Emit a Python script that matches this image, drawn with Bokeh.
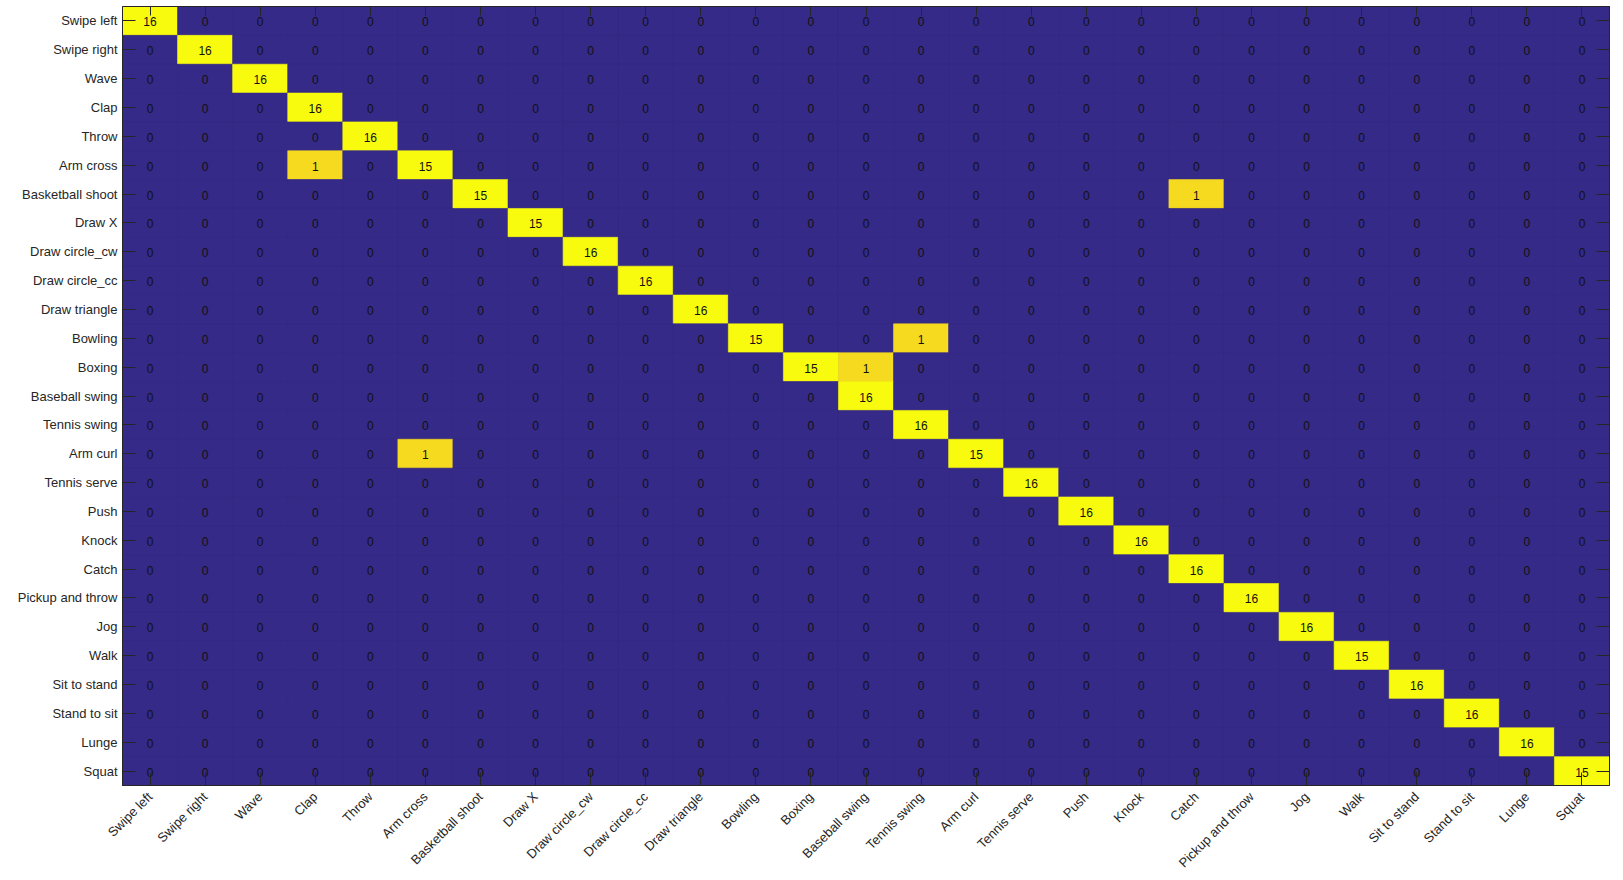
import math
from bokeh.plotting import figure
from bokeh.models import ColumnDataSource, LinearColorMapper, CategoricalAxis, FactorRange
from bokeh.transform import transform
from bokeh.core.properties import value
from bokeh.embed import file_html
from bokeh.resources import INLINE

classes = ["Swipe left", "Swipe right", "Wave", "Clap", "Throw", "Arm cross",
           "Basketball shoot", "Draw X", "Draw circle_cw", "Draw circle_cc",
           "Draw triangle", "Bowling", "Boxing", "Baseball swing", "Tennis swing",
           "Arm curl", "Tennis serve", "Push", "Knock", "Catch", "Pickup and throw",
           "Jog", "Walk", "Sit to stand", "Stand to sit", "Lunge", "Squat"]

diag_counts = [16, 16, 16, 16, 16, 15, 15, 15, 16, 16, 16, 15, 15, 16, 16, 15,
               16, 16, 16, 16, 16, 16, 15, 16, 16, 16, 15]

off_true = ["Arm cross", "Basketball shoot", "Bowling", "Boxing", "Arm curl"]
off_pred = ["Clap", "Catch", "Tennis swing", "Baseball swing", "Arm cross"]
off_counts = [1, 1, 1, 1, 1]

# colour per count: 0 -> dark blue, 1 -> gold, >=2 -> yellow
count_palette = ["#352A87", "#F5DA1F"] + ["#F9FB0E"] * 15

n = len(classes)
mat = [[0] * n for _ in range(n)]
for i, c in enumerate(diag_counts):
    mat[i][i] = c
for t, pr, c in zip(off_true, off_pred, off_counts):
    mat[classes.index(t)][classes.index(pr)] = c

xs, ys, vals, txt = [], [], [], []
for i in range(n):
    for j in range(n):
        xs.append(classes[j])
        ys.append(classes[i])
        vals.append(mat[i][j])
        txt.append(str(mat[i][j]))
src = ColumnDataSource(dict(x=xs, y=ys, v=vals, t=txt))

mapper = LinearColorMapper(palette=count_palette, low=-0.5, high=16.5)

p = figure(width=1615, height=878,
           x_range=FactorRange(factors=classes),
           y_range=FactorRange(factors=classes[::-1]),
           output_backend="svg", toolbar_location=None,
           min_border_left=122, min_border_top=6, min_border_right=6,
           min_border_bottom=88)

p.rect(x="x", y="y", width=1, height=1, source=src,
       fill_color=transform("v", mapper), line_color=transform("v", mapper),
       line_width=0.6)
p.text(x="x", y="y", text="t", source=src, text_align="center",
       text_baseline="middle", text_font=value("Liberation Sans"),
       text_font_size="12px", text_color="#111111", y_offset=1)

p.grid.visible = False
p.outline_line_color = "#262626"
p.outline_line_width = 1
p.background_fill_color = "#352A87"

TC = "#262626"
for ax in (p.xaxis[0], p.yaxis[0]):
    ax.major_tick_out = 0
    ax.major_tick_in = 13
    ax.major_tick_line_color = TC
    ax.axis_line_color = TC
    ax.major_label_text_font = "Liberation Sans"
    ax.major_label_text_font_size = "13px"
    ax.major_label_text_color = TC
    ax.major_label_standoff = 5
p.xaxis[0].major_label_orientation = math.pi / 4
p.xaxis[0].major_label_standoff = 9

for side, tick in (("above", 9), ("right", 13)):
    ax = CategoricalAxis()
    ax.major_tick_out = 0
    ax.major_tick_in = tick
    ax.major_tick_line_color = TC
    ax.axis_line_color = TC
    ax.major_label_text_font_size = "0px"
    ax.major_label_standoff = 0
    ax.major_label_text_alpha = 0
    p.add_layout(ax, side)

open("out.html", "w").write(file_html(p, INLINE))
